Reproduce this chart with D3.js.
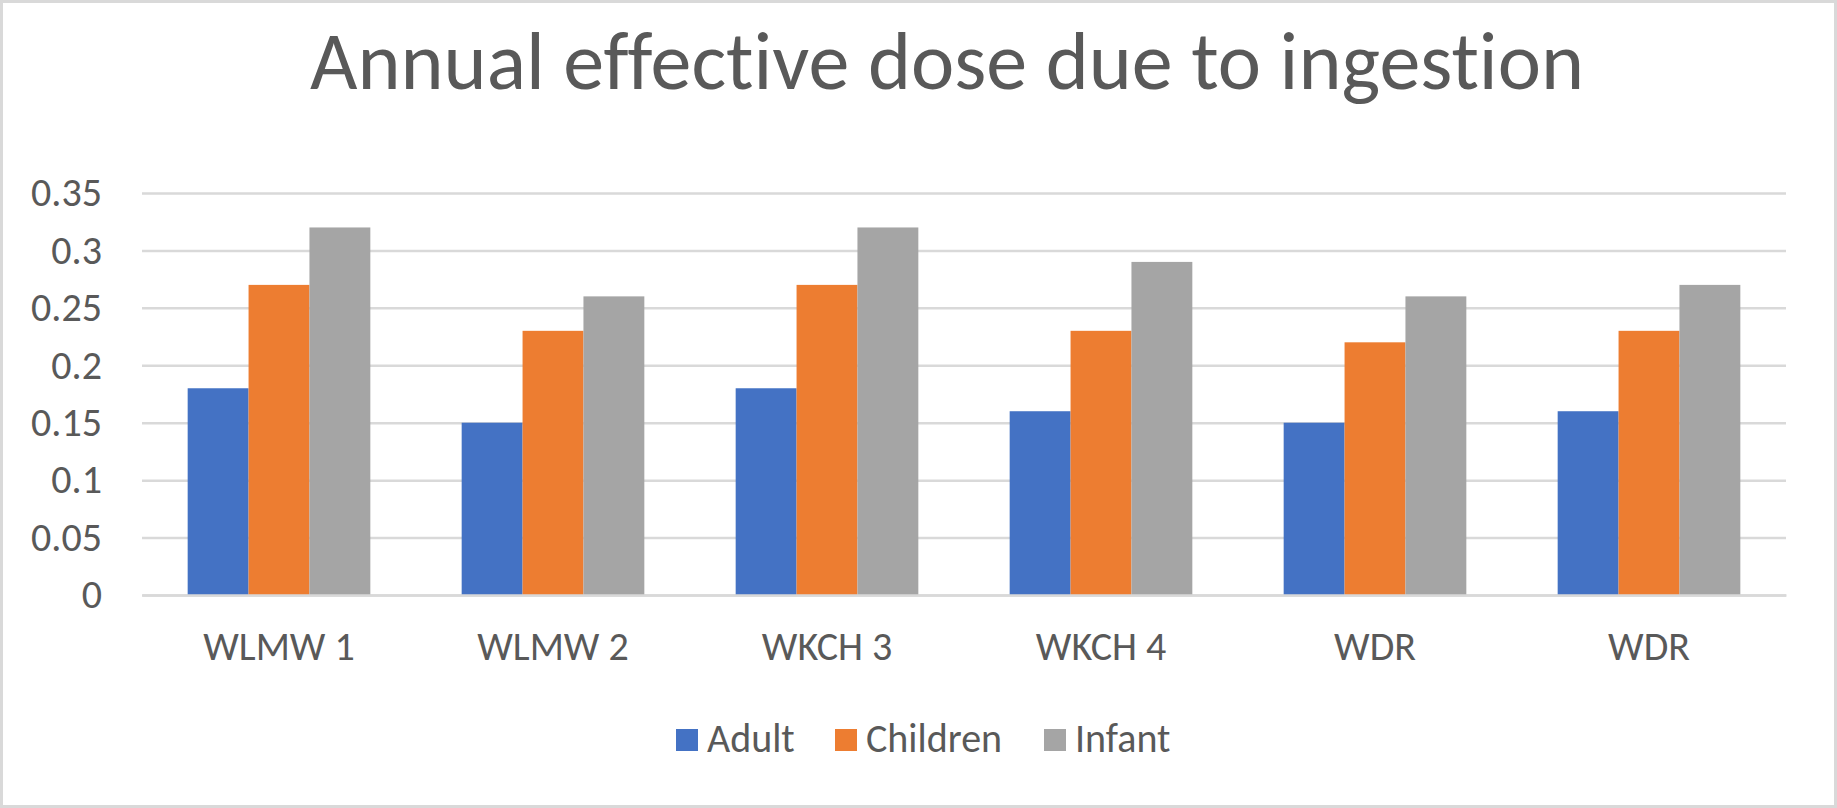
<!DOCTYPE html>
<html>
<head>
<meta charset="utf-8">
<script src="https://cdn.jsdelivr.net/npm/d3@7"></script>
<style>
  html, body { margin: 0; padding: 0; background: #fff; }
  text { font-family: Carlito, Lato, "Open Sans", sans-serif; fill: #595959; font-variant-ligatures: none; }
</style>
</head>
<body>
<svg id="chart"></svg>
<script>
// data
const categories = ["WLMW 1", "WLMW 2", "WKCH 3", "WKCH 4", "WDR", "WDR"];
const series = ["Adult", "Children", "Infant"];
const adult = [0.18, 0.15, 0.18, 0.16, 0.15, 0.16];
const children = [0.27, 0.23, 0.27, 0.23, 0.22, 0.23];
const infant = [0.32, 0.26, 0.32, 0.29, 0.26, 0.27];
const yTicks = [0, 0.05, 0.1, 0.15, 0.2, 0.25, 0.3, 0.35];
const colors = ["#4472C4", "#ED7D31", "#A5A5A5"];
const title = "Annual effective dose due to ingestion";

const values = [adult, children, infant];
const rows = categories.map((c, i) => ({
  idx: i,
  name: c,
  vals: series.map((s, j) => ({ key: s, value: values[j][i] }))
}));

// set the dimensions and margins of the graph
const W = 1837, H = 808;
const margin = { top: 193, right: 51, bottom: 213, left: 142 };
const width = W - margin.left - margin.right;
const height = H - margin.top - margin.bottom;

const root = d3.select("#chart").attr("width", W).attr("height", H);

root.append("rect")
  .attr("x", 1.5).attr("y", 1.5)
  .attr("width", W - 3).attr("height", H - 3)
  .attr("fill", "#fff")
  .attr("stroke", "#d9d9d9")
  .attr("stroke-width", 3);

root.append("text")
  .attr("x", 947)
  .attr("y", 89)
  .attr("text-anchor", "middle")
  .style("font-size", "82px")
  .text(title);

const svg = root.append("g")
  .attr("transform", "translate(" + margin.left + "," + margin.top + ")");

// scales
const x0 = d3.scaleBand()
  .domain(d3.range(categories.length))
  .range([0, width])
  .paddingInner(1 / 3)
  .paddingOuter(1 / 6);
const x1 = d3.scaleBand().domain(series).range([0, x0.bandwidth()]);
const y = d3.scaleLinear().domain([0, 0.35]).range([height, 0]);

// Y axis + gridlines
const yAxis = svg.append("g")
  .call(d3.axisLeft(y)
    .tickValues(yTicks)
    .tickSize(-width)
    .tickPadding(40)
    .tickFormat(d => String(+d.toFixed(2))));
yAxis.select(".domain").remove();
yAxis.selectAll(".tick line").attr("stroke", "#d9d9d9").attr("stroke-width", 2.5);
yAxis.selectAll(".tick text")
  .style("font-size", "40px")
  .attr("fill", "#595959");

// bars
svg.append("g")
  .selectAll("g")
  .data(rows)
  .enter()
  .append("g")
  .attr("transform", d => "translate(" + x0(d.idx) + ",0)")
  .selectAll("rect")
  .data(d => d.vals)
  .enter()
  .append("rect")
  .attr("x", d => x1(d.key))
  .attr("y", d => y(d.value))
  .attr("width", x1.bandwidth())
  .attr("height", d => height - y(d.value))
  .attr("fill", (d, i) => colors[i]);

// X axis
const xAxis = svg.append("g")
  .attr("transform", "translate(0," + height + ")")
  .call(d3.axisBottom(x0).tickSize(0).tickPadding(37).tickFormat(i => categories[i]));
xAxis.select(".domain").attr("stroke", "#d9d9d9").attr("stroke-width", 2.5);
xAxis.selectAll(".tick text")
  .style("font-size", "40px")
  .attr("fill", "#595959");

// legend
const legendX = [676, 835, 1044];
const legend = root.append("g")
  .selectAll("g")
  .data(series)
  .enter()
  .append("g")
  .attr("transform", (d, i) => "translate(" + legendX[i] + ",729)");
legend.append("rect")
  .attr("width", 22)
  .attr("height", 22)
  .attr("fill", (d, i) => colors[i]);
legend.append("text")
  .attr("x", 31)
  .attr("y", 23)
  .style("font-size", "40px")
  .text(d => d);
</script>
</body>
</html>
